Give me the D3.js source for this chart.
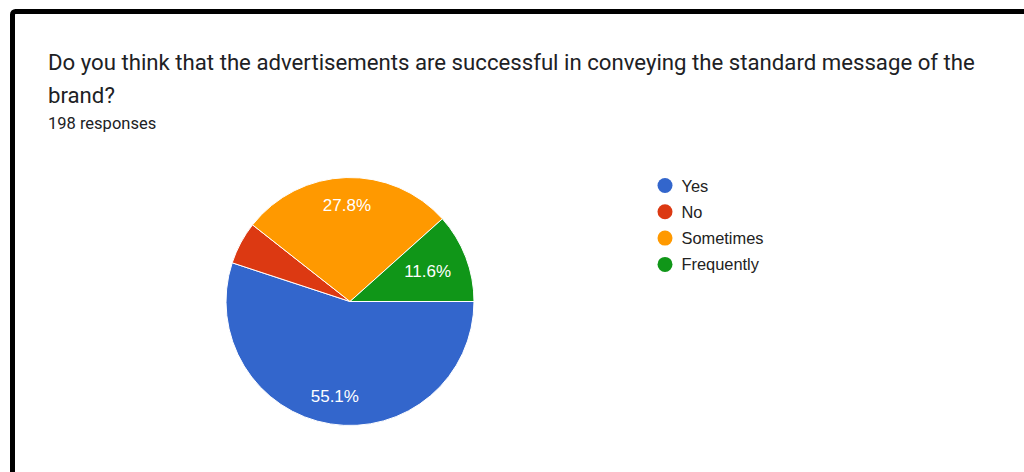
<!DOCTYPE html>
<html>
<head>
<meta charset="utf-8">
<script src="https://cdn.jsdelivr.net/npm/d3@7"></script>
<style>
  html, body { margin: 0; padding: 0; background: #fff; }
  svg { display: block; }
</style>
</head>
<body>
<svg id="chart" width="1024" height="472"></svg>
<script>
// Survey answers and their response counts
const categories = ["Yes", "No", "Sometimes", "Frequently"];
const counts = [109, 11, 55, 23];
const colors = ["#3366cc", "#dc3912", "#ff9900", "#109618"];
const titleLines = [
  "Do you think that the advertisements are successful in conveying the standard message of the",
  "brand?"
];
const subtitle = "198 responses";

const svg = d3.select("#chart");

// Card frame
svg.append("rect")
  .attr("x", 12.5).attr("y", 11.5)
  .attr("width", 1100).attr("height", 600)
  .attr("rx", 3)
  .attr("fill", "#fff")
  .attr("stroke", "#000")
  .attr("stroke-width", 5);

// Question title and response count
const title = svg.append("text")
  .attr("x", 48)
  .attr("font-family", "Roboto, Arial, sans-serif")
  .attr("font-size", 22.2)
  .attr("fill", "#202124");
title.selectAll("tspan")
  .data(titleLines)
  .join("tspan")
  .attr("x", 48)
  .attr("y", (d, i) => 69.5 + i * 33.5)
  .text(d => d);

svg.append("text")
  .attr("x", 48).attr("y", 129)
  .attr("font-family", "Roboto, Arial, sans-serif")
  .attr("font-size", 16.5)
  .attr("fill", "#202124")
  .text(subtitle);

// Pie
const cx = 350, cy = 301.5, radius = 124;
const total = d3.sum(counts);
const data = categories.map((c, i) => ({ category: c, value: counts[i], color: colors[i] }));

const pie = d3.pie()
  .value(d => d.value)
  .sort(null)
  .startAngle(Math.PI / 2)
  .endAngle(Math.PI / 2 + 2 * Math.PI);

const arcs = pie(data);
const arc = d3.arc().innerRadius(0).outerRadius(radius);

const g = svg.append("g").attr("transform", `translate(${cx},${cy})`);

g.selectAll("path.slice")
  .data(arcs)
  .join("path")
  .attr("class", "slice")
  .attr("d", arc)
  .attr("fill", d => d.data.color)
  .attr("stroke", "#fff")
  .attr("stroke-width", 1);

// Percentage labels inside slices wide enough to hold them
const fmt = v => (v / total * 100).toFixed(1) + "%";
g.selectAll("text.pct")
  .data(arcs.filter(d => d.endAngle - d.startAngle > 0.5))
  .join("text")
  .attr("class", "pct")
  .each(function(d) {
    const span = d.endAngle - d.startAngle;
    const lr = radius * (span > 1.2 ? 0.775 : 0.67);
    const mid = (d.startAngle + d.endAngle) / 2;
    d3.select(this)
      .attr("x", Math.sin(mid) * lr)
      .attr("y", -Math.cos(mid) * lr);
  })
  .attr("text-anchor", "middle")
  .attr("dominant-baseline", "central")
  .attr("font-family", "Arial, 'Liberation Sans', sans-serif")
  .attr("font-size", 17)
  .attr("fill", "#fff")
  .text(d => fmt(d.data.value));

// Legend
const legend = svg.append("g").attr("transform", "translate(665,185.5)");
const item = legend.selectAll("g")
  .data(data)
  .join("g")
  .attr("transform", (d, i) => `translate(0,${i * 26.3})`);
item.append("circle")
  .attr("r", 7.5)
  .attr("fill", d => d.color);
item.append("text")
  .attr("x", 16.5)
  .attr("dominant-baseline", "central")
  .attr("font-family", "Arial, 'Liberation Sans', sans-serif")
  .attr("font-size", 16.4)
  .attr("fill", "#222")
  .text(d => d.category);
</script>
</body>
</html>
